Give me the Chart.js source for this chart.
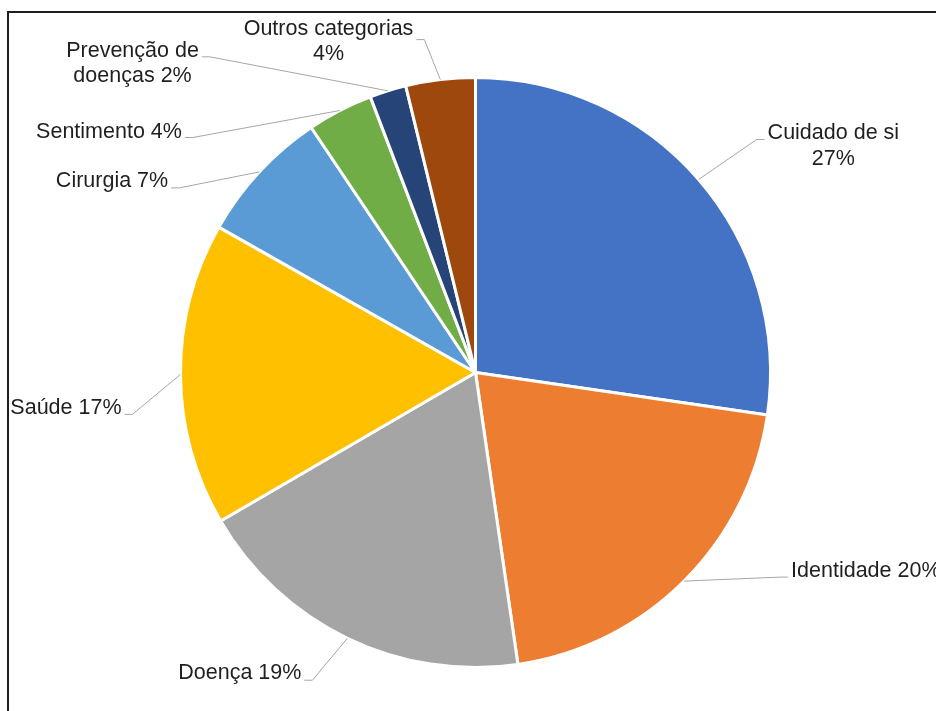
<!DOCTYPE html>
<html>
<head>
<meta charset="utf-8">
<script src="https://cdn.jsdelivr.net/npm/chart.js@4"></script>
<style>
	html, body { margin: 0; padding: 0; background: #fff; }
	#wrap { position: relative; width: 936px; height: 711px; overflow: hidden; }
	#frame { position: absolute; left: 7px; top: 11px; width: 1000px; height: 800px;
		border-left: 2px solid #1e1e1e; border-top: 2px solid #1e1e1e; }
	canvas { position: absolute; left: 0; top: 0; }
</style>
</head>
<body>
<div id="wrap">
	<div id="frame"></div>
	<canvas id="chart1" width="936" height="711"></canvas>
</div>
<script>
	// categorias (a "\n" marca a quebra de linha do rótulo)
	const categorias = ["Cuidado de si", "Identidade", "Doença", "Saúde", "Cirurgia", "Sentimento", "Prevenção de\ndoenças", "Outros categorias"];
	const valores = [27.3, 20.4, 18.9, 16.6, 7.4, 3.6, 2.0, 3.8];
	const cores = ["#4472C4", "#ED7D31", "#A5A5A5", "#FFC000", "#5B9BD5", "#70AD47", "#264478", "#9E480E"];
	// percentagem na linha de baixo?
	const quebraAntesPct = [true, false, false, false, false, false, false, true];

	// posição dos rótulos: cotovelo relativo ao ponto da borda da fatia, lado, ajuste vertical do texto
	const rotulos = [
		{ ex: 58, ey: -40, lado: 1, ty: 6 },
		{ ex: 96, ey: -4, lado: 1, ty: 6 },
		{ ex: -35, ey: 42, lado: -1, ty: 7 },
		{ ex: -48, ey: 40, lado: -1, ty: 6 },
		{ ex: -80, ey: 16, lado: -1, ty: 7 },
		{ ex: -147, ey: 27, lado: -1, ty: 5 },
		{ ex: -178, ey: -34, lado: -1, ty: 6 },
		{ ex: -16, ey: -40, lado: -1, ty: 11 },
	];

	const total = valores.reduce((a, b) => a + b, 0);

	const rotulosFora = {
		id: "rotulosFora",
		afterDatasetsDraw(chart) {
			const ctx = chart.ctx;
			const meta = chart.getDatasetMeta(0);
			ctx.save();
			ctx.font = "21.5px 'Liberation Sans', Arial, sans-serif";
			ctx.textBaseline = "middle";
			meta.data.forEach((arc, i) => {
				const meio = (arc.startAngle + arc.endAngle) / 2;
				const px = arc.x + Math.cos(meio) * arc.outerRadius;
				const py = arc.y + Math.sin(meio) * arc.outerRadius;
				const r = rotulos[i];
				const cx = px + r.ex;
				const cy = py + r.ey;
				const fx = cx + 8 * r.lado;

				ctx.strokeStyle = "#a6a6a6";
				ctx.lineWidth = 1;
				ctx.beginPath();
				ctx.moveTo(px, py);
				ctx.lineTo(cx, cy);
				ctx.lineTo(fx, cy);
				ctx.stroke();

				const pct = Math.round((valores[i] / total) * 100) + "%";
				const texto = categorias[i] + (quebraAntesPct[i] ? "\n" : " ") + pct;
				const linhas = texto.split("\n");
				const larg = Math.max(...linhas.map((l) => ctx.measureText(l).width));
				const esq = r.lado > 0 ? fx + 3 : fx - 3 - larg;
				const centro = esq + larg / 2;
				ctx.fillStyle = "#1f1f1f";
				ctx.textAlign = "center";
				linhas.forEach((l, k) => {
					ctx.fillText(l, centro, cy - r.ty + k * 25.5);
				});
			});
			ctx.restore();
		},
	};

	new Chart(document.getElementById("chart1"), {
		type: "pie",
		data: {
			labels: categorias.map((c) => c.replace("\n", " ")),
			datasets: [
				{
					data: valores,
					backgroundColor: cores,
					borderColor: "#ffffff",
					borderWidth: 3,
					hoverOffset: 0,
				},
			],
		},
		options: {
			responsive: false,
			animation: false,
			layout: {
				padding: { left: 179, right: 164, top: 76, bottom: 42 },
			},
			plugins: {
				legend: { display: false },
				tooltip: { enabled: false },
			},
		},
		plugins: [rotulosFora],
	});
</script>
</body>
</html>
